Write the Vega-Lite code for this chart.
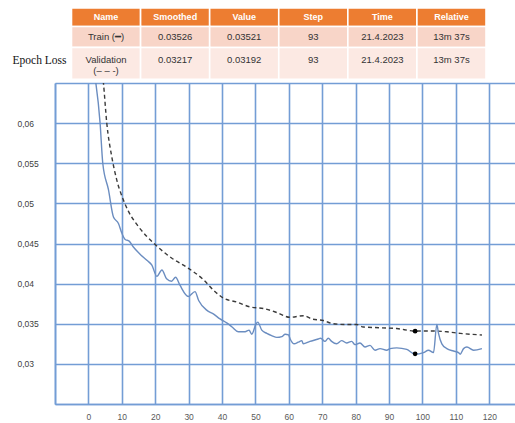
{
  "$schema": "https://vega.github.io/schema/vega-lite/v6.json",
  "width": 460,
  "height": 321,
  "autosize": {"type": "none"},
  "padding": {"left": 55, "top": 83, "right": 0, "bottom": 19},
  "background": "white",
  "config": {"view": {"stroke": null}},
  "datasets": {
    "train": [
      {"step": 1.5, "loss": 0.067}, {"step": 3.5, "loss": 0.06}, {"step": 4.3, "loss": 0.055},
      {"step": 6.0, "loss": 0.0517}, {"step": 7.5, "loss": 0.0483}, {"step": 9.0, "loss": 0.0475},
      {"step": 10.0, "loss": 0.0463}, {"step": 11.0, "loss": 0.0455}, {"step": 12.2, "loss": 0.0453},
      {"step": 13.4, "loss": 0.0446}, {"step": 15.4, "loss": 0.0437}, {"step": 17.5, "loss": 0.0429},
      {"step": 19.0, "loss": 0.0423}, {"step": 20.5, "loss": 0.0409}, {"step": 22.0, "loss": 0.0417},
      {"step": 23.4, "loss": 0.0406}, {"step": 24.9, "loss": 0.0403}, {"step": 26.1, "loss": 0.0408},
      {"step": 27.4, "loss": 0.0398}, {"step": 29.9, "loss": 0.0384}, {"step": 31.9, "loss": 0.039},
      {"step": 33.0, "loss": 0.0379}, {"step": 35.4, "loss": 0.0367}, {"step": 37.5, "loss": 0.0362},
      {"step": 39.4, "loss": 0.0356}, {"step": 41.4, "loss": 0.0351}, {"step": 43.0, "loss": 0.0346},
      {"step": 44.9, "loss": 0.034}, {"step": 46.9, "loss": 0.034}, {"step": 48.1, "loss": 0.0342},
      {"step": 48.9, "loss": 0.0337}, {"step": 50.2, "loss": 0.035}, {"step": 50.7, "loss": 0.0352},
      {"step": 51.9, "loss": 0.0342}, {"step": 53.4, "loss": 0.0338}, {"step": 55.0, "loss": 0.0335},
      {"step": 56.4, "loss": 0.0333}, {"step": 57.9, "loss": 0.0334}, {"step": 58.9, "loss": 0.0337},
      {"step": 59.9, "loss": 0.0336}, {"step": 60.4, "loss": 0.0331}, {"step": 61.6, "loss": 0.0325},
      {"step": 62.8, "loss": 0.0327}, {"step": 63.9, "loss": 0.0329}, {"step": 64.3, "loss": 0.0325},
      {"step": 66.3, "loss": 0.0328}, {"step": 68.8, "loss": 0.0331}, {"step": 69.5, "loss": 0.0332},
      {"step": 70.8, "loss": 0.0328}, {"step": 71.8, "loss": 0.0332}, {"step": 72.8, "loss": 0.0328},
      {"step": 74.3, "loss": 0.0325}, {"step": 75.8, "loss": 0.0329}, {"step": 77.3, "loss": 0.0326},
      {"step": 78.8, "loss": 0.0328}, {"step": 79.8, "loss": 0.0324}, {"step": 81.3, "loss": 0.0326},
      {"step": 82.8, "loss": 0.0321}, {"step": 84.3, "loss": 0.0323}, {"step": 85.8, "loss": 0.0317},
      {"step": 87.3, "loss": 0.0319}, {"step": 89.3, "loss": 0.0317}, {"step": 90.3, "loss": 0.0319},
      {"step": 92.3, "loss": 0.032}, {"step": 95.3, "loss": 0.0318}, {"step": 97.8, "loss": 0.0312},
      {"step": 100.3, "loss": 0.0314}, {"step": 101.8, "loss": 0.0317}, {"step": 103.3, "loss": 0.0314},
      {"step": 104.3, "loss": 0.0349}, {"step": 104.8, "loss": 0.0338}, {"step": 105.8, "loss": 0.0325},
      {"step": 107.3, "loss": 0.0319}, {"step": 109.3, "loss": 0.0316}, {"step": 110.8, "loss": 0.0314},
      {"step": 111.3, "loss": 0.0312}, {"step": 112.3, "loss": 0.0319}, {"step": 113.3, "loss": 0.0321},
      {"step": 115.3, "loss": 0.0317}, {"step": 117.8, "loss": 0.0319}
    ],
    "val": [
      {"step": 4.0, "loss": 0.067}, {"step": 4.5, "loss": 0.065}, {"step": 5.5, "loss": 0.06},
      {"step": 7.0, "loss": 0.0558}, {"step": 8.5, "loss": 0.0529}, {"step": 10.3, "loss": 0.0506},
      {"step": 12.0, "loss": 0.049}, {"step": 15.0, "loss": 0.0471}, {"step": 19.9, "loss": 0.0449},
      {"step": 24.9, "loss": 0.0432}, {"step": 29.6, "loss": 0.042}, {"step": 34.4, "loss": 0.0405},
      {"step": 37.4, "loss": 0.0392}, {"step": 40.4, "loss": 0.0382}, {"step": 44.4, "loss": 0.0377},
      {"step": 48.4, "loss": 0.0371}, {"step": 52.4, "loss": 0.0369}, {"step": 56.4, "loss": 0.0364},
      {"step": 60.4, "loss": 0.0358}, {"step": 64.4, "loss": 0.036}, {"step": 66.9, "loss": 0.0356},
      {"step": 70.3, "loss": 0.0354}, {"step": 73.3, "loss": 0.035}, {"step": 77.3, "loss": 0.0349},
      {"step": 80.3, "loss": 0.0349}, {"step": 82.3, "loss": 0.0346}, {"step": 87.3, "loss": 0.0345},
      {"step": 92.3, "loss": 0.0344}, {"step": 97.8, "loss": 0.0341}, {"step": 102.3, "loss": 0.0341},
      {"step": 107.3, "loss": 0.034}, {"step": 111.3, "loss": 0.0338}, {"step": 117.8, "loss": 0.0336}
    ],
    "dots": [
      {"step": 97.8, "loss": 0.03125}, {"step": 97.8, "loss": 0.03408}
    ],
    "table": [
      {"col": "Name", "row": 0, "end": 1, "ty": 0.5, "text": "Name"},
      {"col": "Smoothed", "row": 0, "end": 1, "ty": 0.5, "text": "Smoothed"},
      {"col": "Value", "row": 0, "end": 1, "ty": 0.5, "text": "Value"},
      {"col": "Step", "row": 0, "end": 1, "ty": 0.5, "text": "Step"},
      {"col": "Time", "row": 0, "end": 1, "ty": 0.5, "text": "Time"},
      {"col": "Relative", "row": 0, "end": 1, "ty": 0.5, "text": "Relative"},
      {"col": "Name", "row": 1, "end": 2, "ty": 1.5, "text": "Train (━)"},
      {"col": "Smoothed", "row": 1, "end": 2, "ty": 1.5, "text": "0.03526"},
      {"col": "Value", "row": 1, "end": 2, "ty": 1.5, "text": "0.03521"},
      {"col": "Step", "row": 1, "end": 2, "ty": 1.5, "text": "93"},
      {"col": "Time", "row": 1, "end": 2, "ty": 1.5, "text": "21.4.2023"},
      {"col": "Relative", "row": 1, "end": 2, "ty": 1.5, "text": "13m 37s"},
      {"col": "Name", "row": 2, "end": 3, "ty": 2.38, "text": "Validation"},
      {"col": "Name", "row": 2, "end": 3, "ty": 2.74, "text": "(– – -)"},
      {"col": "Smoothed", "row": 2, "end": 3, "ty": 2.38, "text": "0.03217"},
      {"col": "Value", "row": 2, "end": 3, "ty": 2.38, "text": "0.03192"},
      {"col": "Step", "row": 2, "end": 3, "ty": 2.38, "text": "93"},
      {"col": "Time", "row": 2, "end": 3, "ty": 2.38, "text": "21.4.2023"},
      {"col": "Relative", "row": 2, "end": 3, "ty": 2.38, "text": "13m 37s"}
    ]
  },
  "layer": [
    {
      "encoding": {
        "x": {
          "field": "step", "type": "quantitative",
          "scale": {"domain": [-10, 127.7], "nice": false, "zero": false},
          "axis": {
            "values": [-10, 0, 10, 20, 30, 40, 50, 60, 70, 80, 90, 100, 110, 120],
            "title": null, "grid": true, "gridColor": "#739DD5", "gridWidth": 1.6,
            "domainColor": "#739DD5", "domainWidth": 1.6, "ticks": false,
            "labelExpr": "datum.value < 0 ? '' : datum.label",
            "labelPadding": 8, "labelFont": "Liberation Sans", "labelFontSize": 8.5,
            "labelColor": "#595959", "labelFlush": false, "labelOverlap": false
          }
        },
        "y": {
          "field": "loss", "type": "quantitative",
          "scale": {"domain": [0.025, 0.065], "nice": false, "zero": false},
          "axis": {
            "values": [0.025, 0.03, 0.035, 0.04, 0.045, 0.05, 0.055, 0.06, 0.065],
            "grid": true, "gridColor": "#739DD5", "gridWidth": 1.6,
            "domainColor": "#739DD5", "domainWidth": 1.6, "ticks": false,
            "labelExpr": "datum.value < 0.027 || datum.value > 0.063 ? '' : replace(format(datum.value, '.3~f'), '.', ',')",
            "labelAlign": "left", "labelPadding": 38, "labelBaseline": "middle",
            "labelFont": "Liberation Sans", "labelFontSize": 8.5, "labelColor": "#404040",
            "labelFlush": false, "labelOverlap": false,
            "title": "Epoch Loss", "titleAngle": 0, "titleX": -43, "titleY": -23,
            "titleAlign": "left", "titleBaseline": "middle",
            "titleFont": "Liberation Serif", "titleFontSize": 11.5, "titleFontWeight": "normal",
            "titleColor": "#111111"
          }
        }
      },
      "layer": [
        {
          "data": {"name": "val"},
          "mark": {"type": "line", "clip": true, "interpolate": "monotone", "color": "#3a3a3a", "strokeWidth": 1.4, "strokeDash": [4, 3]}
        },
        {
          "data": {"name": "train"},
          "mark": {"type": "line", "clip": true, "interpolate": "monotone", "color": "#6B8DC0", "strokeWidth": 1.4}
        },
        {
          "data": {"name": "dots"},
          "mark": {"type": "point", "filled": true, "color": "black", "size": 22, "opacity": 1}
        }
      ]
    },
    {
      "data": {"name": "table"},
      "layer": [
        {
          "mark": {"type": "rect", "stroke": "white", "strokeWidth": 1.6},
          "encoding": {
            "x": {"field": "col", "type": "nominal", "sort": null,
                  "scale": {"range": [16.5, 431], "paddingInner": 0, "paddingOuter": 0}, "axis": null},
            "y": {"field": "row", "type": "quantitative",
                  "scale": {"domain": [0, 1, 2, 3], "range": [-75, -56.5, -35.5, -3.8], "nice": false, "zero": false}, "axis": null},
            "y2": {"field": "end"},
            "color": {"field": "row", "type": "nominal", "legend": null,
                      "scale": {"domain": [0, 1, 2], "range": ["#ED7D31", "#F8D5C8", "#FCE9E3"]}}
          }
        },
        {
          "transform": [{"filter": "datum.row == 0"}],
          "mark": {"type": "text", "color": "white", "fontWeight": "bold", "font": "Liberation Sans", "fontSize": 9, "baseline": "middle"},
          "encoding": {
            "x": {"field": "col", "type": "nominal", "sort": null, "bandPosition": 0.5,
                  "scale": {"range": [16.5, 431], "paddingInner": 0, "paddingOuter": 0}, "axis": null},
            "y": {"field": "ty", "type": "quantitative",
                  "scale": {"domain": [0, 1, 2, 3], "range": [-75, -56.5, -35.5, -3.8], "nice": false, "zero": false}, "axis": null},
            "text": {"field": "text"}
          }
        },
        {
          "transform": [{"filter": "datum.row > 0"}],
          "mark": {"type": "text", "color": "#333333", "font": "Liberation Sans", "fontSize": 9.5, "baseline": "middle"},
          "encoding": {
            "x": {"field": "col", "type": "nominal", "sort": null, "bandPosition": 0.5,
                  "scale": {"range": [16.5, 431], "paddingInner": 0, "paddingOuter": 0}, "axis": null},
            "y": {"field": "ty", "type": "quantitative",
                  "scale": {"domain": [0, 1, 2, 3], "range": [-75, -56.5, -35.5, -3.8], "nice": false, "zero": false}, "axis": null},
            "text": {"field": "text"}
          }
        }
      ]
    }
  ],
  "resolve": {
    "scale": {"x": "independent", "y": "independent", "color": "independent"},
    "axis": {"x": "independent", "y": "independent"}
  }
}
